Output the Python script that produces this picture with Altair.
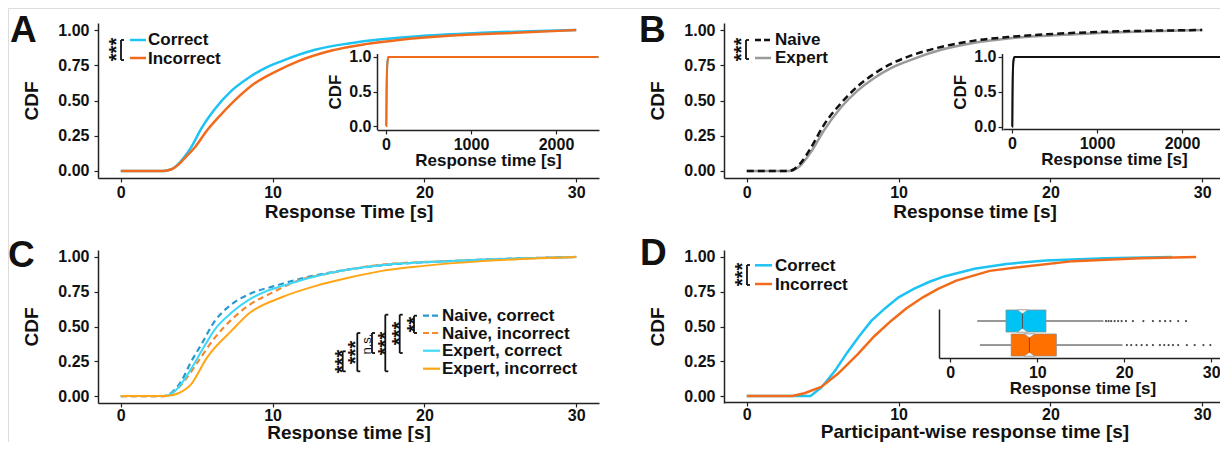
import altair as alt
import pandas as pd

W, H = 1212, 434
OX, OY = 10, 10   # page pixel -> chart pixel (page margin 8, shifted 2px to fit)
FONT = "Liberation Sans"

# ---------------- data ----------------
# Panel A: response time CDF, correct vs incorrect
a_cor_t = [0, 2.8, 3.3, 3.8, 4.2, 4.7, 5.3, 6.2, 7.3, 8.4, 9.5, 10.6, 12.8, 15.0, 17.2, 19.4, 23.8, 30.0]
a_cor_F = [0, 0, 0.01, 0.05, 0.10, 0.18, 0.30, 0.44, 0.57, 0.66, 0.73, 0.78, 0.86, 0.905, 0.935, 0.955, 0.98, 1.0]
a_inc_t = [0, 2.8, 3.3, 3.8, 4.2, 4.9, 5.7, 6.6, 7.7, 8.8, 10.1, 11.7, 13.9, 16.1, 18.3, 21.6, 26.0, 30.0]
a_inc_F = [0, 0, 0.01, 0.045, 0.09, 0.17, 0.29, 0.40, 0.52, 0.62, 0.70, 0.78, 0.855, 0.90, 0.93, 0.96, 0.98, 1.0]

# Panel B: naive vs expert
b_nai_t = [0, 2.8, 3.5, 4.2, 5.1, 6.2, 7.3, 8.4, 9.5, 10.6, 12.8, 15.0, 17.2, 21.6, 30.0]
b_nai_F = [0, 0, 0.05, 0.16, 0.33, 0.48, 0.60, 0.69, 0.76, 0.81, 0.88, 0.925, 0.95, 0.98, 1.0]
b_exp_t = [0, 2.8, 3.5, 4.2, 5.1, 6.2, 7.3, 8.4, 9.5, 10.6, 12.8, 15.0, 17.2, 21.6, 30.0]
b_exp_F = [0, 0, 0.035, 0.13, 0.29, 0.45, 0.57, 0.66, 0.73, 0.78, 0.86, 0.91, 0.94, 0.97, 1.0]

# inset tail: the CDF stays at 1 up to the longest response time
tail_t = [2500]
tail_F = [1.0]

# Panel C: four groups
c_nc_t = [0, 2.8, 3.5, 4.0, 4.6, 5.3, 6.2, 7.3, 8.4, 10.1, 11.7, 13.9, 17.2, 21.6, 30.0]
c_nc_F = [0, 0, 0.04, 0.11, 0.24, 0.37, 0.54, 0.66, 0.73, 0.79, 0.84, 0.89, 0.94, 0.97, 1.0]
c_ni_t = [0, 2.8, 3.5, 4.2, 5.1, 6.2, 7.3, 8.4, 9.9, 11.7, 13.9, 17.2, 21.6, 30.0]
c_ni_F = [0, 0, 0.03, 0.11, 0.25, 0.42, 0.55, 0.65, 0.74, 0.83, 0.886, 0.945, 0.97, 1.0]
c_ec_t = [0, 2.8, 3.5, 4.0, 4.6, 5.3, 6.2, 7.3, 8.4, 9.5, 10.6, 12.8, 15.0, 17.2, 21.6, 30.0]
c_ec_F = [0, 0, 0.03, 0.09, 0.19, 0.32, 0.48, 0.60, 0.69, 0.75, 0.79, 0.86, 0.91, 0.94, 0.97, 1.0]
c_ei_t = [0, 3.0, 3.8, 4.6, 5.7, 7.3, 8.4, 10.6, 12.8, 15.0, 17.2, 19.4, 23.8, 30.0]
c_ei_F = [0, 0, 0.02, 0.08, 0.28, 0.47, 0.59, 0.71, 0.79, 0.85, 0.90, 0.93, 0.97, 1.0]

# Panel D: participant-wise
d_cor_t = [0, 4.2, 4.9, 5.8, 6.6, 7.4, 8.2, 9.1, 10.0, 11.0, 12.0, 13.0, 15.0, 17.1, 19.7, 23.6, 28.0]
d_cor_F = [0, 0, 0.06, 0.18, 0.31, 0.43, 0.54, 0.63, 0.71, 0.77, 0.82, 0.86, 0.915, 0.95, 0.975, 0.99, 1.0]
d_inc_t = [0, 3.0, 3.8, 4.9, 6.0, 7.3, 8.4, 9.5, 10.5, 11.6, 12.6, 13.8, 16.0, 18.2, 21.5, 25.9, 29.6]
d_inc_F = [0, 0, 0.02, 0.065, 0.16, 0.30, 0.43, 0.54, 0.63, 0.71, 0.77, 0.83, 0.90, 0.93, 0.97, 0.99, 1.0]

# Panel D inset: boxplot statistics
box_group = ["Correct", "Incorrect"]
box_row = [2, 1]
box_lo = [3.1, 3.4]
box_q1 = [6.4, 7.0]
box_med = [8.3, 9.1]
box_q3 = [11.0, 12.2]
box_hi = [17.6, 19.8]
out_cor = [17.9, 18.2, 18.5, 18.9, 19.3, 19.7, 20.2, 21.0, 22.2, 23.3, 24.1, 24.7, 25.3, 26.2, 27.1]
out_inc = [20.3, 20.8, 21.4, 22.0, 22.6, 23.3, 24.1, 24.6, 25.1, 25.6, 26.2, 27.2, 28.1, 29.1, 29.9]

main_x_ticks = [0, 10, 20, 30]
main_y_ticks = [0, 0.25, 0.5, 0.75, 1.0]
inset_x_ticks = [0, 1000, 2000]
inset_y_ticks = [0, 0.5, 1.0]

# ---------------- colours ----------------
CYAN, ORANGE = "#1CC3F3", "#F26B1C"
NAIVE, EXPERT = "#111111", "#9A9A9A"
NC, NI, EC, EI = "#2A98CF", "#F28A32", "#3ED8F8", "#FFA516"
BOX_C, BOX_I = "#00C3F5", "#FF7000"
INK = "#111111"

# ---------------- scales / axes helpers ----------------
def sx(domain, left, right):
    return alt.Scale(domain=domain, range=[left - OX, right - OX], nice=False, zero=False)

def sy(domain, bottom, top):
    return alt.Scale(domain=domain, range=[bottom - OY, top - OY], nice=False, zero=False)

AX = dict(grid=False, domainColor="#222", domainWidth=1.5, tickColor="#222", tickWidth=1.2,
          tickSize=4, labelFont=FONT, labelFontWeight="bold", labelColor=INK,
          titleFont=FONT, titleFontWeight="bold", titleColor=INK,
          labelFlush=False, labelOverlap=False)

def x_axis(title, values, fmt, axis_y, lab=16, tit=19, tpad=2, lpad=2):
    return alt.Axis(orient="bottom", offset=(axis_y - OY) - H, title=title, values=values,
                    format=fmt, labelFontSize=lab, titleFontSize=tit, titlePadding=tpad,
                    labelPadding=lpad, **AX)

def y_axis(title, values, fmt, axis_x, lab=16, tit=19, tpad=16, lpad=5):
    return alt.Axis(orient="left", offset=-(axis_x - OX), title=title, values=values,
                    format=fmt, labelFontSize=lab, titleFontSize=tit, titlePadding=tpad,
                    labelPadding=lpad, **AX)

def curve(ts, fs, xs, ys, color, width=2.5, dash=None, xa=None, ya=None, interp="monotone"):
    df = pd.DataFrame({"t": ts, "F": fs})
    kw = dict(color=color, strokeWidth=width, interpolate=interp)
    if dash:
        kw["strokeDash"] = dash
    return alt.Chart(df).mark_line(**kw).encode(
        x=alt.X("t:Q", scale=xs, axis=xa),
        y=alt.Y("F:Q", scale=ys, axis=ya))

def texts(rows, size, weight="bold", angle=0, align="left", baseline="alphabetic", color=INK):
    df = pd.DataFrame(rows, columns=["label", "x", "y"])
    df["x"] = df["x"] - OX
    df["y"] = df["y"] - OY
    return alt.Chart(df).mark_text(font=FONT, fontSize=size, fontWeight=weight, angle=angle,
                                   align=align, baseline=baseline, color=color).encode(
        x=alt.X("x:Q", scale=None), y=alt.Y("y:Q", scale=None), text="label:N")

def segs(rows, color, width=2.0, dash=None):
    df = pd.DataFrame(rows, columns=["x", "y", "x2", "y2"]).astype(float)
    df[["x", "x2"]] = df[["x", "x2"]] - OX
    df[["y", "y2"]] = df[["y", "y2"]] - OY
    kw = dict(color=color, strokeWidth=width)
    if dash:
        kw["strokeDash"] = dash
    return alt.Chart(df).mark_rule(**kw).encode(
        x=alt.X("x:Q", scale=None), y=alt.Y("y:Q", scale=None), x2="x2:Q", y2="y2:Q")

def brackets(specs, width=2.0):
    rows = []
    for x, y1, y2 in specs:
        rows += [(x, y1, x, y2), (x, y1, x + 3, y1), (x, y2, x + 3, y2)]
    return segs(rows, INK, width)

# ---------------- panel geometry (page pixels) ----------------
MX = [-1.5, 31.5]
MY = [-0.05, 1.05]
IX = [-106, 2506]

A_x, A_y = sx(MX, 100, 601), sy(MY, 180, 25)
B_x, B_y = sx(MX, 726, 1227), sy(MY, 180, 25)
C_x, C_y = sx(MX, 100, 601), sy(MY, 405, 252)
D_x, D_y = sx(MX, 726, 1227), sy(MY, 405, 252)
IA_x, IA_y = sx(IX, 379, 601), sy(MY, 131.5, 55.5)
IB_x, IB_y = sx(IX, 1005, 1227), sy(MY, 132, 55.5)
ID_x, ID_y = sx([-1.3, 31.7], 941, 1228), sy([0.46, 2.5], 360, 311)

layers = []

# ----- Panel A -----
layers.append(curve(a_cor_t, a_cor_F, A_x, A_y, CYAN,
                    xa=x_axis("Response Time [s]", main_x_ticks, "d", 180),
                    ya=y_axis("CDF", main_y_ticks, ".2f", 100)))
layers.append(curve(a_inc_t, a_inc_F, A_x, A_y, ORANGE))
layers.append(curve(a_cor_t + tail_t, a_cor_F + tail_F, IA_x, IA_y, CYAN, width=2, interp="linear",
                    xa=x_axis("Response time [s]", inset_x_ticks, "d", 132, tit=17, tpad=0),
                    ya=y_axis("CDF", inset_y_ticks, ".1f", 379, tit=17, tpad=4, lpad=2)))
layers.append(curve(a_inc_t + tail_t, a_inc_F + tail_F, IA_x, IA_y, ORANGE, width=2, interp="linear"))

# ----- Panel B -----
layers.append(curve(b_exp_t, b_exp_F, B_x, B_y, EXPERT,
                    xa=x_axis("Response time [s]", main_x_ticks, "d", 180),
                    ya=y_axis("CDF", main_y_ticks, ".2f", 726)))
layers.append(curve(b_nai_t, b_nai_F, B_x, B_y, NAIVE, dash=[7, 4]))
layers.append(curve(b_exp_t + tail_t, b_exp_F + tail_F, IB_x, IB_y, EXPERT, width=2, interp="linear",
                    xa=x_axis("Response time [s]", inset_x_ticks, "d", 131, tit=17, tpad=0),
                    ya=y_axis("CDF", inset_y_ticks, ".1f", 1004, tit=17, tpad=4, lpad=2)))
layers.append(curve(b_nai_t + tail_t, b_nai_F + tail_F, IB_x, IB_y, NAIVE, width=2, interp="linear"))

# ----- Panel C -----
layers.append(curve(c_nc_t, c_nc_F, C_x, C_y, NC, width=2.2, dash=[6, 4],
                    xa=x_axis("Response time [s]", main_x_ticks, "d", 405, tpad=0, lpad=0),
                    ya=y_axis("CDF", main_y_ticks, ".2f", 100)))
layers.append(curve(c_ni_t, c_ni_F, C_x, C_y, NI, width=2.2, dash=[6, 4]))
layers.append(curve(c_ec_t, c_ec_F, C_x, C_y, EC, width=2))
layers.append(curve(c_ei_t, c_ei_F, C_x, C_y, EI, width=2))

# ----- Panel D -----
layers.append(curve(d_cor_t, d_cor_F, D_x, D_y, CYAN, interp="linear",
                    xa=x_axis("Participant-wise response time [s]", main_x_ticks, "d", 404, tpad=0, lpad=0),
                    ya=y_axis("CDF", main_y_ticks, ".2f", 726)))
layers.append(curve(d_inc_t, d_inc_F, D_x, D_y, ORANGE, interp="linear"))

# D inset boxplot
box = pd.DataFrame({"group": box_group, "row": box_row, "lo": box_lo, "q1": box_q1,
                    "med": box_med, "q3": box_q3, "hi": box_hi})
box["top"] = box["row"] + 0.46
box["bot"] = box["row"] - 0.46
box["mtop"] = box["row"] + 0.31
box["mbot"] = box["row"] - 0.31

layers.append(alt.Chart(box).mark_rule(color="#333", strokeWidth=1).encode(
    x=alt.X("lo:Q", scale=ID_x, axis=x_axis("Response time [s]", main_x_ticks, "d", 360, tit=17, tpad=0)),
    x2="q1:Q",
    y=alt.Y("row:Q", scale=ID_y,
            axis=alt.Axis(orient="left", offset=-(941 - OX), title=None, labels=False, ticks=False,
                          grid=False, domainColor="#222", domainWidth=1.5))))
layers.append(alt.Chart(box).mark_rule(color="#333", strokeWidth=1).encode(
    x=alt.X("q3:Q", scale=ID_x, axis=None), x2="hi:Q",
    y=alt.Y("row:Q", scale=ID_y, axis=None)))
layers.append(alt.Chart(box).mark_bar(stroke="#8a8a8a", strokeWidth=0.7).encode(
    x=alt.X("q1:Q", scale=ID_x, axis=None), x2="q3:Q",
    y=alt.Y("bot:Q", scale=ID_y, axis=None), y2="top:Q",
    color=alt.Color("group:N", scale=alt.Scale(domain=box_group, range=[BOX_C, BOX_I]), legend=None)))
layers.append(alt.Chart(box).mark_point(shape="M-1,0L1,0L0,0.7Z", size=110, filled=True,
                                         fill="white", stroke="#8a8a8a", strokeWidth=0.6, opacity=1).encode(
    x=alt.X("med:Q", scale=ID_x, axis=None), y=alt.Y("top:Q", scale=ID_y, axis=None)))
layers.append(alt.Chart(box).mark_point(shape="M-1,0L1,0L0,-0.7Z", size=110, filled=True,
                                         fill="white", stroke="#8a8a8a", strokeWidth=0.6, opacity=1).encode(
    x=alt.X("med:Q", scale=ID_x, axis=None), y=alt.Y("bot:Q", scale=ID_y, axis=None)))
layers.append(alt.Chart(box).mark_rule(color="#555", strokeWidth=1).encode(
    x=alt.X("med:Q", scale=ID_x, axis=None),
    y=alt.Y("mbot:Q", scale=ID_y, axis=None), y2="mtop:Q"))
outl = pd.DataFrame({"t": out_cor + out_inc,
                     "row": [2] * len(out_cor) + [1] * len(out_inc)})
layers.append(alt.Chart(outl).mark_circle(size=5, color="#333", opacity=0.9).encode(
    x=alt.X("t:Q", scale=ID_x, axis=None), y=alt.Y("row:Q", scale=ID_y, axis=None)))

# ---------------- annotations ----------------
layers.append(texts([("A", 12, 44), ("B", 641, 44), ("C", 10, 269), ("D", 642, 267)], 37))
layers.append(texts([("Correct", 150, 47), ("Incorrect", 150, 66),
                     ("Naive", 777, 47), ("Expert", 777, 65),
                     ("Naive, correct", 444, 323), ("Naive, incorrect", 444, 340.5),
                     ("Expert, correct", 444, 358), ("Expert, incorrect", 444, 376),
                     ("Correct", 777, 273), ("Incorrect", 777, 292)], 17))
SDX = 5.5
layers.append(texts([("***", 113 + SDX, 51.5), ("***", 738.5 + SDX, 51.5), ("***", 739 + SDX, 276.5),
                     ("***", 339 + SDX, 363.5), ("***", 352.5 + SDX, 354.5),
                     ("***", 382 + SDX, 345.5), ("***", 396.7 + SDX, 335.5),
                     ("**", 411 + SDX, 326.5)], 20, angle=270, align="center", baseline="middle"))
layers.append(texts([("n.s.", 369, 346)], 13, weight="normal", angle=270, align="center", baseline="middle"))
layers.append(brackets([(123, 42, 62), (748, 42, 61), (749, 267, 287),
                        (344.7, 353.3, 373.3), (359.3, 335, 373.3), (374, 335, 355),
                        (387.3, 316.7, 373.3), (401.7, 316.7, 355), (416, 317.7, 335)], width=1.8))
layers.append(segs([(132, 42, 148, 42), (757, 267.3, 774, 267.3)], CYAN, 2.5))
layers.append(segs([(132, 60, 148, 60), (757, 286, 774, 286)], ORANGE, 2.5))
layers.append(segs([(757, 42, 773, 42)], NAIVE, 2.5, dash=[6, 3]))
layers.append(segs([(757, 60, 773, 60)], EXPERT, 2.5))
layers.append(segs([(425, 317.7, 442, 317.7)], NC, 2.2, dash=[6, 3]))
layers.append(segs([(425, 335, 442, 335)], NI, 2.2, dash=[6, 3]))
layers.append(segs([(425, 352.7, 442, 352.7)], EC, 2.2))
layers.append(segs([(425, 370.7, 442, 370.7)], EI, 2.2))

chart = alt.layer(*layers).resolve_scale(
    x="independent", y="independent", color="independent"
).properties(
    width=W, height=H, autosize=alt.AutoSizeParams(type="none"), padding=0
).configure_view(stroke=None).configure(background="white")

chart.save("out.html", embed_options={"renderer": "svg", "actions": False})
